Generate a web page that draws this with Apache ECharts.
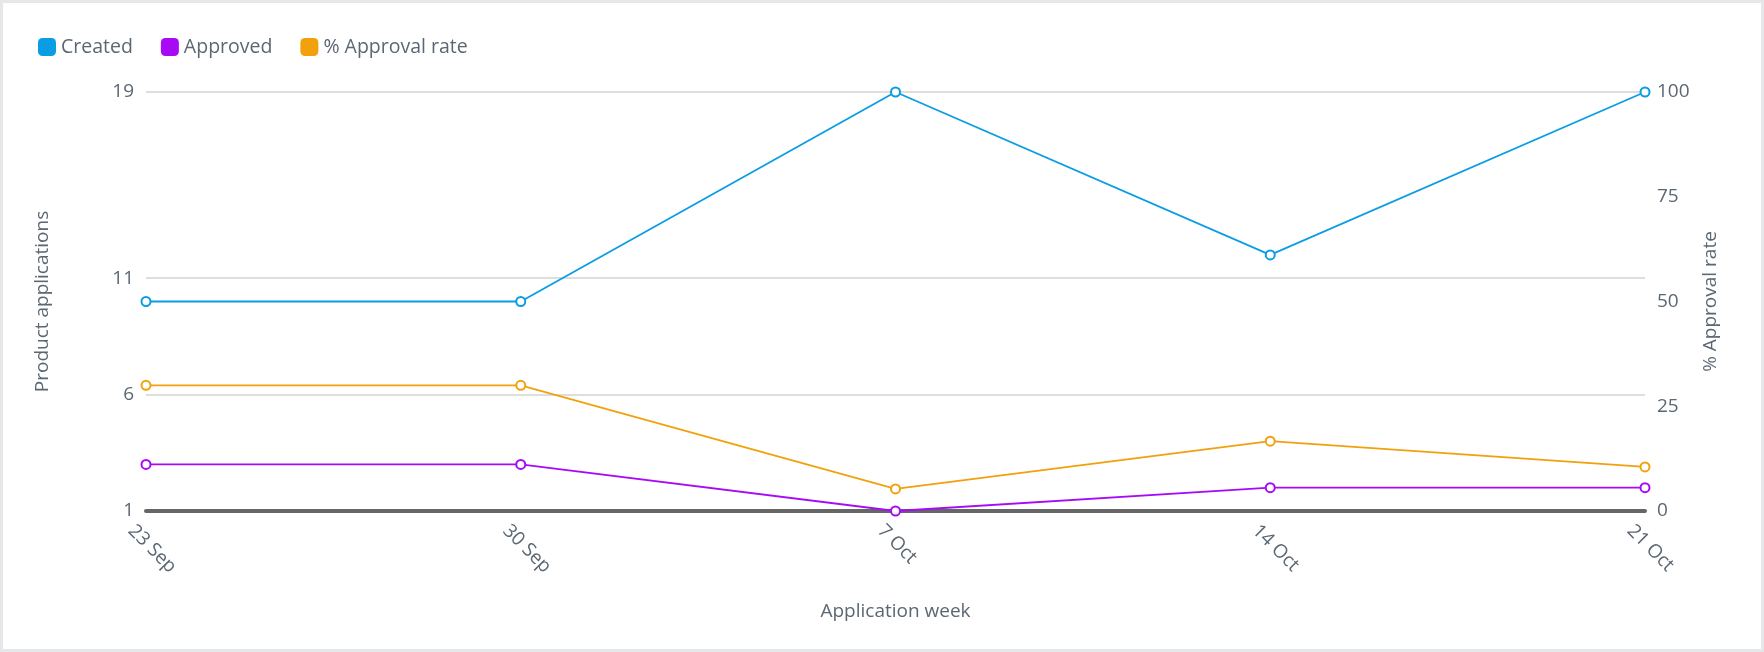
<!DOCTYPE html>
<html>
<head>
<meta charset="utf-8">
<script src="https://cdn.jsdelivr.net/npm/echarts@6/dist/echarts.min.js"></script>
<style>
html,body{margin:0;padding:0;background:#fff;}
#chart{width:1764px;height:652px;}
</style>
</head>
<body>
<div id="chart"></div>
<script>
const weeks = ['23 Sep', '30 Sep', '7 Oct', '14 Oct', '21 Oct'];
const created = [10, 10, 19, 12, 19];
const approved = [3, 3, 1, 2, 2];
const approvalRate = [30, 30, 5.26, 16.67, 10.53];
const leftTicks = [1, 6, 11, 19];
const rightTicks = [0, 25, 50, 75, 100];

const FONT = 'Open Sans';
const TXT = '#5b6773';
const C_CREATED = '#0b9de3';
const C_APPROVED = '#a70bf5';
const C_RATE = '#f0a10c';
const chart = echarts.init(document.getElementById('chart'));

function lineSeries(name, data, axis, color) {
  return {
    name: name, type: 'line', data: data, yAxisIndex: axis,
    symbol: 'emptyCircle', symbolSize: 9, showAllSymbol: true,
    color: color,
    lineStyle: {width: 1.8, color: color},
    itemStyle: {color: color, borderColor: color, borderWidth: 1.8},
    emphasis: {disabled: true}
  };
}

chart.setOption({
  animation: false,
  graphic: [{
    type: 'rect', silent: true, z: 100,
    shape: {x: 1.5, y: 1.5, width: 1761, height: 649},
    style: {fill: 'none', stroke: '#e6e7e9', lineWidth: 3}
  }],
  textStyle: {fontFamily: FONT},
  legend: {
    left: 33, top: 32,
    icon: 'roundRect',
    itemWidth: 18, itemHeight: 18, itemGap: 28,
    textStyle: {fontFamily: FONT, fontSize: 19.5, color: TXT},
    data: [
      {name: 'Created', itemStyle: {color: C_CREATED, borderWidth: 0}},
      {name: 'Approved', itemStyle: {color: C_APPROVED, borderWidth: 0}},
      {name: '% Approval rate', itemStyle: {color: C_RATE, borderWidth: 0}}
    ]
  },
  grid: {left: 146, right: 119, top: 92, bottom: 141, containLabel: false},
  xAxis: {
    type: 'category', data: weeks, boundaryGap: false,
    name: 'Application week', nameLocation: 'middle', nameGap: 91,
    nameTextStyle: {fontFamily: FONT, fontSize: 19, color: TXT},
    axisLine: {show: true, lineStyle: {color: '#666666', width: 4}},
    axisTick: {show: false},
    axisLabel: {rotate: -45, margin: 2, verticalAlign: 'top', lineHeight: 42,
      fontFamily: FONT, fontSize: 19, color: TXT},
    splitLine: {show: false}
  },
  yAxis: [{
    type: 'value', min: 1, max: 19,
    name: 'Product applications', nameLocation: 'middle', nameGap: 94,
    nameTextStyle: {fontFamily: FONT, fontSize: 19, color: TXT},
    axisLine: {show: false},
    axisTick: {show: false, customValues: leftTicks},
    axisLabel: {customValues: leftTicks, margin: 12, fontFamily: FONT, fontSize: 19, color: TXT},
    splitLine: {show: true, lineStyle: {color: '#d3d3d3', width: 1.5}}
  }, {
    type: 'value', min: 0, max: 100, interval: 25,
    name: '% Approval rate', nameLocation: 'middle', nameGap: 56,
    nameTextStyle: {fontFamily: FONT, fontSize: 19, color: TXT},
    axisLine: {show: false},
    axisTick: {show: false},
    axisLabel: {margin: 12, fontFamily: FONT, fontSize: 19, color: TXT},
    splitLine: {show: false},
    data: rightTicks
  }],
  series: [
    lineSeries('Created', created, 0, C_CREATED),
    lineSeries('Approved', approved, 0, C_APPROVED),
    lineSeries('% Approval rate', approvalRate, 1, C_RATE)
  ]
});
</script>
</body>
</html>
